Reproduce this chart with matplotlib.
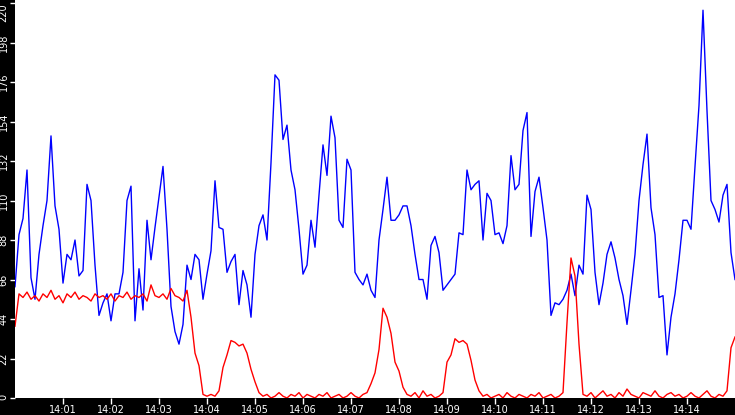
import numpy as np
import matplotlib
matplotlib.use("Agg")
from matplotlib import pyplot as plt

# samples every 5 s from 14:00:00
blue = [62, 91, 100, 127, 67, 55, 80, 96, 110, 146,
        107, 94, 64, 80, 77, 88, 68, 71, 119, 110,
        74, 46, 53, 58, 43, 58, 58, 70, 110, 118,
        43, 72, 49, 99, 77, 95, 112, 129, 94, 51,
        37, 30, 41, 74, 66, 80, 77, 55, 69, 82,
        121, 95, 94, 70, 76, 80, 52, 71, 63, 45,
        80, 96, 102, 88, 131, 180, 177, 144, 152, 127,
        116, 94, 69, 74, 99, 84, 113, 141, 124, 157,
        145, 99, 95, 133, 127, 70, 66, 63, 69, 60,
        56, 88, 105, 123, 99, 99, 102, 107, 107, 96,
        80, 66, 66, 55, 85, 90, 81, 60, 63, 66,
        69, 92, 91, 127, 116, 119, 121, 88, 114, 110,
        91, 92, 86, 96, 135, 116, 119, 149, 159, 90,
        115, 123, 106, 88, 46, 53, 52, 55, 60, 69,
        57, 74, 69, 113, 105, 70, 52, 64, 80, 87,
        78, 66, 57, 41, 60, 80, 110, 130, 147, 106,
        91, 56, 57, 24, 45, 58, 77, 99, 99, 94,
        129, 163, 216, 160, 110, 105, 98, 113, 119, 81,
        66]

red = [40, 58, 56, 59, 55, 57, 54, 58, 56, 60,
       55, 57, 53, 58, 56, 59, 55, 57, 56, 54,
       58, 56, 57, 55, 58, 54, 57, 56, 59, 55,
       57, 56, 58, 54, 63, 57, 56, 58, 55, 61,
       57, 56, 54, 60, 45, 25, 18, 2, 1, 2,
       1, 4, 17, 24, 32, 31, 29, 30, 25, 16,
       9, 3, 1, 2, 0, 1, 3, 1, 0, 2,
       1, 3, 0, 2, 1, 0, 2, 1, 3, 0,
       1, 2, 0, 1, 3, 1, 0, 2, 3, 8,
       14, 27, 50, 45, 36, 20, 15, 6, 2, 1,
       3, 0, 4, 1, 2, 0, 1, 3, 20, 24,
       33, 31, 32, 30, 21, 10, 4, 1, 2, 0,
       1, 2, 0, 3, 1, 0, 2, 1, 0, 2,
       1, 3, 0, 1, 2, 0, 1, 3, 42, 78,
       68, 30, 2, 1, 3, 0, 2, 4, 1, 2,
       0, 3, 1, 5, 2, 1, 0, 3, 2, 1,
       4, 1, 0, 2, 3, 1, 2, 0, 1, 3,
       1, 0, 2, 4, 1, 0, 2, 1, 4, 28,
       34]

t = np.arange(len(blue)) * 5
xticks = np.arange(60, 900, 60)
xlabels = ["14:%02d" % m for m in range(1, 15)]
yticks = np.arange(0, 221, 22)

fig = plt.figure(figsize=(7.35, 4.15), dpi=100, facecolor="black")
ax = fig.add_axes([15 / 735, 17 / 415, 1 - 15 / 735, 1 - 17 / 415])
ax.set_facecolor("white")

ax.plot(t, blue, color="#0000ff", lw=1.0)
ax.plot(t, red, color="#ff0000", lw=1.0)

ax.set_xlim(0, 900)
ax.set_ylim(0, 221.7)
ax.set_xticks(xticks, xlabels)
ax.set_yticks(yticks, [str(v) for v in yticks])
ax.tick_params(axis="x", colors="white", labelsize=7, length=4.3, width=1, pad=1)
ax.tick_params(axis="y", colors="white", labelsize=7, length=3.5, width=1, pad=1)
ylabs = ax.get_yticklabels()
for lab in ylabs:
    lab.set_rotation(90)
    lab.set_va("center")
ylabs[-1].set_va("top")
ylabs[0].set_va("center_baseline")
for s in ax.spines.values():
    s.set_visible(False)

fig.savefig("out.png", dpi=100, facecolor="black")
